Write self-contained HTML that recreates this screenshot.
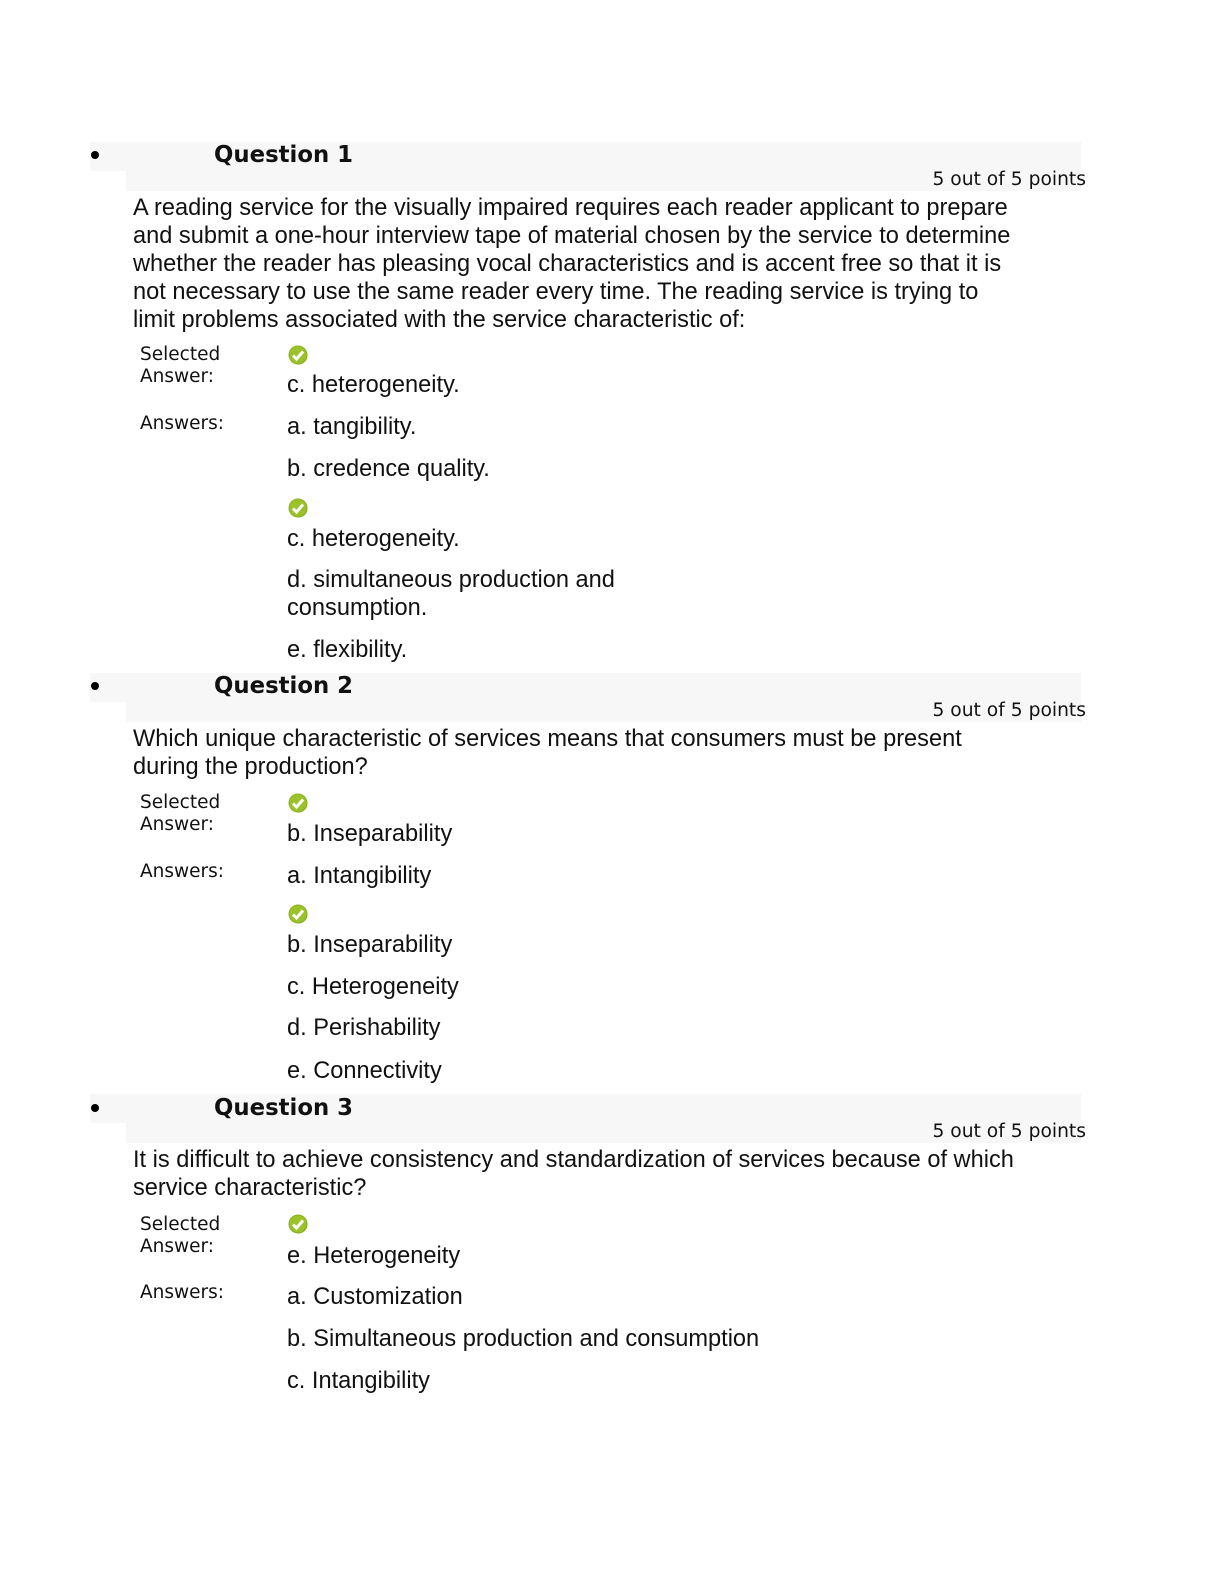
<!DOCTYPE html>
<html><head><meta charset="utf-8"><style>
body{margin:0;width:1224px;height:1584px;background:#fff;position:relative;overflow:hidden}
.a{position:absolute;white-space:nowrap;color:#111}
.t{font-family:"Liberation Sans",sans-serif;font-size:23.6px;line-height:28px}
.s{font-family:"DejaVu Sans",sans-serif;font-size:18.5px;line-height:22px}
.p{font-family:"DejaVu Sans",sans-serif;font-size:18.7px;line-height:22px}
.h{font-family:"DejaVu Sans",sans-serif;font-weight:bold;font-size:22.8px;line-height:26px}
.g1{position:absolute;left:90px;width:991px;height:29px;background:#f7f7f7}
.g2{position:absolute;left:126px;width:955px;height:21px;background:#f7f7f7}
.b{position:absolute;width:8px;height:8px;border-radius:50%;background:#000}
.c{position:absolute;width:20px;height:20px}
</style></head><body>
<svg width="0" height="0" style="position:absolute"><defs><g id="ck"><circle cx="10" cy="10" r="9.5" fill="#8bb21f"/><circle cx="11" cy="11" r="8.5" fill="#7a9a20" opacity=".4"/><circle cx="10" cy="10" r="8.5" fill="#9cc22a"/><path d="M5 10.5 L8.5 14 L15 6.5" stroke="#fff" stroke-width="3" fill="none"/></g></defs></svg>

<div class="g1" style="top:142px"></div><div class="g2" style="top:170px"></div>
<div class="b" style="left:91px;top:151px"></div>
<div class="a h" style="left:214px;top:142px">Question 1</div>
<div class="a p" style="right:138px;top:169px">5 out of 5 points</div>
<div class="a t" style="left:133px;top:194px">A reading service for the visually impaired requires each reader applicant to prepare<br>and submit a one-hour interview tape of material chosen by the service to determine<br>whether the reader has pleasing vocal characteristics and is accent free so that it is<br>not necessary to use the same reader every time. The reading service is trying to<br>limit problems associated with the service characteristic of:</div>
<div class="a s" style="left:140px;top:344px">Selected<br>Answer:</div>
<svg class="c" style="left:288px;top:345px"><use href="#ck"/></svg>
<div class="a t" style="left:287px;top:371px">c. heterogeneity.</div>
<div class="a s" style="left:140px;top:413px">Answers:</div>
<div class="a t" style="left:287px;top:413px">a. tangibility.</div>
<div class="a t" style="left:287px;top:455px">b. credence quality.</div>
<svg class="c" style="left:288px;top:498px"><use href="#ck"/></svg>
<div class="a t" style="left:287px;top:525px">c. heterogeneity.</div>
<div class="a t" style="left:287px;top:566px">d. simultaneous production and<br>consumption.</div>
<div class="a t" style="left:287px;top:636px">e. flexibility.</div>

<div class="g1" style="top:673px"></div><div class="g2" style="top:701px"></div>
<div class="b" style="left:91px;top:682px"></div>
<div class="a h" style="left:214px;top:673px">Question 2</div>
<div class="a p" style="right:138px;top:700px">5 out of 5 points</div>
<div class="a t" style="left:133px;top:725px">Which unique characteristic of services means that consumers must be present<br>during the production?</div>
<div class="a s" style="left:140px;top:792px">Selected<br>Answer:</div>
<svg class="c" style="left:288px;top:793px"><use href="#ck"/></svg>
<div class="a t" style="left:287px;top:820px">b. Inseparability</div>
<div class="a s" style="left:140px;top:861px">Answers:</div>
<div class="a t" style="left:287px;top:862px">a. Intangibility</div>
<svg class="c" style="left:288px;top:904px"><use href="#ck"/></svg>
<div class="a t" style="left:287px;top:931px">b. Inseparability</div>
<div class="a t" style="left:287px;top:973px">c. Heterogeneity</div>
<div class="a t" style="left:287px;top:1014px">d. Perishability</div>
<div class="a t" style="left:287px;top:1057px">e. Connectivity</div>

<div class="g1" style="top:1094px"></div><div class="g2" style="top:1122px"></div>
<div class="b" style="left:91px;top:1104px"></div>
<div class="a h" style="left:214px;top:1095px">Question 3</div>
<div class="a p" style="right:138px;top:1121px">5 out of 5 points</div>
<div class="a t" style="left:133px;top:1146px">It is difficult to achieve consistency and standardization of services because of which<br>service characteristic?</div>
<div class="a s" style="left:140px;top:1214px">Selected<br>Answer:</div>
<svg class="c" style="left:288px;top:1214px"><use href="#ck"/></svg>
<div class="a t" style="left:287px;top:1242px">e. Heterogeneity</div>
<div class="a s" style="left:140px;top:1282px">Answers:</div>
<div class="a t" style="left:287px;top:1283px">a. Customization</div>
<div class="a t" style="left:287px;top:1325px">b. Simultaneous production and consumption</div>
<div class="a t" style="left:287px;top:1367px">c. Intangibility</div>
</body></html>
